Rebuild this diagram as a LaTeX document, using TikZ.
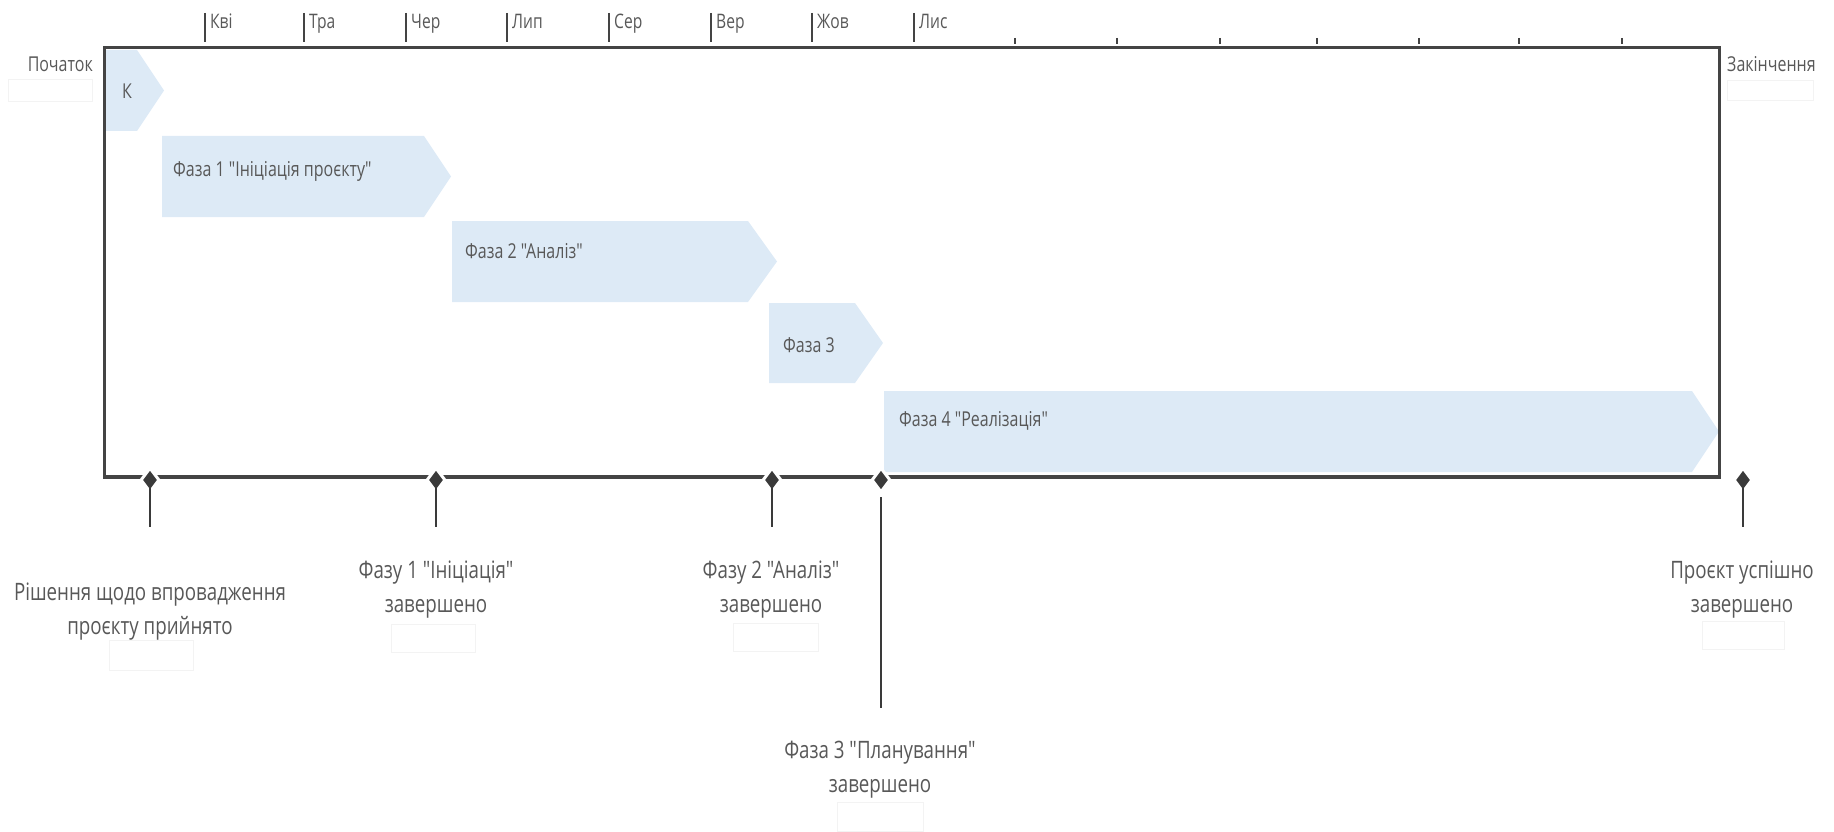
\documentclass[tikz,border=0pt]{standalone}
\usepackage{fontspec}
\setmainfont{Open Sans}[FakeStretch=0.78,Ligatures=TeXOff]
\usetikzlibrary{shapes.geometric}
\definecolor{barfill}{RGB}{221,234,246}
\definecolor{lineC}{RGB}{68,68,68}
\definecolor{txt}{RGB}{88,88,88}
\definecolor{ghost}{RGB}{243,243,243}
\definecolor{msC}{RGB}{58,58,58}
\newcommand{\phasebar}[5]{\fill[barfill] (#1,#2) -- (#3,#2) -- (#5,{(#2+#4)/2}) -- (#3,#4) -- (#1,#4) -- cycle;}
\begin{document}
\begin{tikzpicture}[x=1pt,y=-1pt,
  month/.style={font=\fontsize{20}{24}\selectfont,text=txt,anchor=base west,inner sep=0pt},
  phase/.style={font=\fontsize{20.5}{25}\selectfont,text=txt,anchor=base west,inner sep=0pt},
  mslabel/.style={font=\fontsize{24}{34}\selectfont,text=txt,align=center,anchor=base,inner sep=0pt},
  ghostbox/.style={draw=ghost,line width=1pt},
  mstone/.style={diamond,fill=msC,draw=white,line width=3pt,minimum width=19pt,minimum height=25pt,inner sep=0pt},
  stem/.style={draw=msC,line width=2.5pt},
  mtick/.style={draw=lineC,line width=2pt},
  frameline/.style={draw=lineC,line width=3pt},
]
\useasboundingbox (0,0) rectangle (1834,832);

% phase bars
\phasebar{104}{50}{137}{131}{164}
\phasebar{162}{136}{424}{217}{451}
\phasebar{452}{221}{748}{302}{777}
\phasebar{769}{303}{855}{383}{883}
\phasebar{884}{391}{1692}{472}{1719}

\node[phase] (tk) at (122,99) {К};
\node[phase] (t1) at (173,176) {Фаза 1 "Ініціація проєкту"};
\node[phase] (t2) at (465,258) {Фаза 2 "Аналіз"};
\node[phase] (t3) at (783,352) {Фаза 3};
\node[phase] (t4) at (899,426) {Фаза 4 "Реалізація"};

% frame and timeline
\coordinate (fbl) at (104,477);
\coordinate (ftl) at (104,48);
\coordinate (ftr) at (1719,48);
\coordinate (fbr) at (1719,477);
\draw[frameline,line cap=rect] (fbl) -- (ftl) -- (ftr) -- (fbr);
\draw[frameline,line width=3.5pt] (fbl) -- (fbr);

% month ticks
\foreach \x/\m in {205/Кві,304/Тра,406/Чер,507/Лип,609/Сер,711/Вер,812/Жов,914/Лис}{
  \draw[mtick] (\x,13) -- (\x,42);
  \node[month] at (\x+5,29) {\m};
}
\foreach \x in {1015,1117,1220,1317,1419,1519,1622}{
  \draw[mtick] (\x,38) -- (\x,44);
}

% start / end labels
\node[phase,anchor=base east] (start) at (93,72) {Початок};
\node[phase] (finish) at (1727,72) {Закінчення};
\draw[ghostbox] (8,80) rectangle (92,102);
\draw[ghostbox] (1727,81) rectangle (1813,101);

% milestones
\node[mstone] (d1) at (150,480) {};
\node[mstone] (d2) at (436,480) {};
\node[mstone] (d3) at (772,480) {};
\node[mstone] (d4) at (881,480) {};
\node[mstone] (d5) at (1743,480) {};

\coordinate (s1) at (150,527);
\coordinate (s2) at (436,527);
\coordinate (s3) at (772,527);
\coordinate (s4a) at (881,497);
\coordinate (s4) at (881,708);
\coordinate (s5) at (1743,527);
\draw[stem] (d1.center) -- (s1);
\draw[stem] (d2.center) -- (s2);
\draw[stem] (d3.center) -- (s3);
\draw[stem] (s4a) -- (s4);
\draw[stem] (d5.center) -- (s5);

% milestone labels (anchor = baseline of the last line)
\node[mslabel] (l1) at (150,634) {Рішення щодо впровадження\\проєкту прийнято};
\node[mslabel] (l2) at (436,612) {Фазу 1 "Ініціація"\\завершено};
\node[mslabel] (l3) at (771,612) {Фазу 2 "Аналіз"\\завершено};
\node[mslabel] (l4) at (880,792) {Фаза 3 "Планування"\\завершено};
\node[mslabel] (l5) at (1742,612) {Проєкт успішно\\завершено};

\draw[ghostbox] (109,640) rectangle (193,670);
\draw[ghostbox] (391,624) rectangle (475,652);
\draw[ghostbox] (733,623) rectangle (818,651);
\draw[ghostbox] (837,802) rectangle (923,831);
\draw[ghostbox] (1702,621) rectangle (1784,649);
\end{tikzpicture}
\end{document}
